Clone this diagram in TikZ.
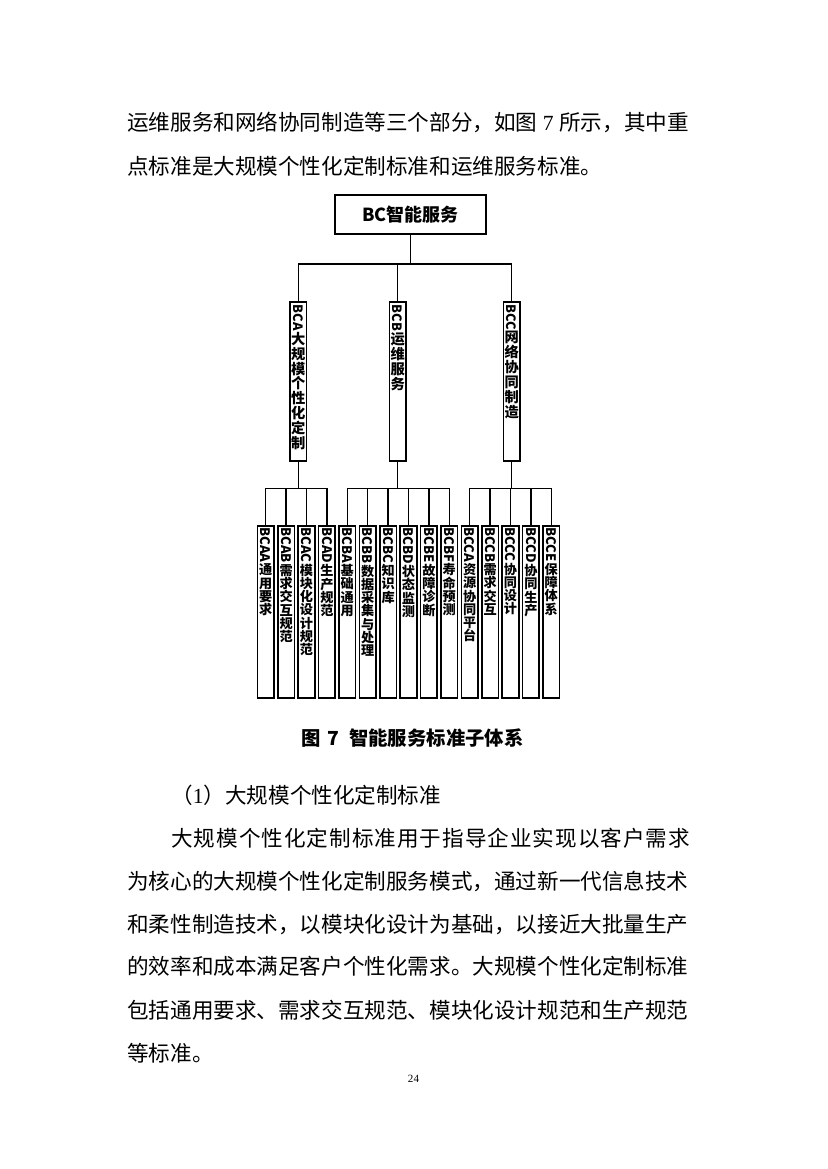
\documentclass[tikz,border=0pt]{standalone}
\usepackage{fontspec}
\usepackage{graphicx}
\setmainfont{Noto Sans CJK SC}
\newfontfamily\latinserif{Liberation Serif}
% inter-character glue for justification of CJK lines
\newcount\cjkc
\cjkc="4E00
\loop \XeTeXcharclass\cjkc=1 \advance\cjkc by 1 \ifnum\cjkc<"A000 \repeat
\XeTeXcharclass"FF0C=3
\XeTeXcharclass"3002=3
\XeTeXcharclass"3001=3
\XeTeXcharclass"FF09=3
\XeTeXcharclass"FF08=2
\XeTeXinterchartoks 1 1 = {\hskip 0pt plus 3pt minus 0.3pt\relax}
\XeTeXinterchartoks 3 1 = {\hskip 0pt plus 3pt minus 0.3pt\relax}
\XeTeXinterchartoks 1 2 = {\hskip 0pt plus 3pt minus 0.3pt\relax}
\XeTeXinterchartoks 3 2 = {\hskip 0pt plus 3pt minus 0.3pt\relax}
\XeTeXinterchartokenstate=1
\tikzset{
  conn/.style={line width=0.9pt},
  topbox/.style={draw, line width=1.4pt, minimum width=38.35mm, minimum height=9.9mm, inner sep=0pt,
    font=\fontsize{13}{15}\selectfont\bfseries},
  midbox/.style={draw, line width=1.2pt, minimum width=4.24mm, minimum height=40.4mm, inner sep=0pt},
  leafbox/.style={draw, line width=1.2pt, minimum width=4.24mm, minimum height=43.8mm, inner sep=0pt},
  midtxt/.style={anchor=north, inner sep=0pt, align=center, font=\fontsize{10.3}{10.8}\selectfont\bfseries},
  leaftxt/.style={anchor=north, inner sep=0pt, align=center, font=\fontsize{9.5}{9.6}\selectfont\bfseries},
  body/.style={anchor=west, inner sep=0pt, font=\fontsize{15.6}{18}\selectfont},
  bodyj/.style={body, text width=143mm, align=justify},
  captxt/.style={inner sep=0pt, font=\fontsize{14}{16}\selectfont\bfseries},
}
\newcommand\midlatin[1]{\rotatebox{-90}{\fontsize{9.3}{10}\selectfont #1}}
\newcommand\leafnode[4]{%
  \node[leafbox] (#1) at (#2,612) {};
  \node[leaftxt] (#1t) at ([yshift=-0.5mm]#1.north) {\rotatebox{-90}{#3}\\#4};
}
\begin{document}
\begin{tikzpicture}[x=0.254mm, y=-0.254mm]
\path[use as bounding box, fill=white] (0,0) rectangle (827,1169);

% body text top
\node[bodyj] (p1) at (127,122.7) {\noindent\parfillskip=0pt 运维服务和网络协同制造等三个部分，如图\hspace{4pt}{\latinserif 7}\hspace{4pt}所示，其中重};
\node[body] (p2) at (127,166.7) {点标准是大规模个性化定制标准和运维服务标准。};

% diagram
\node[topbox] (top) at (410.5,214.5) {BC智能服务};
\coordinate (bus1) at (0,264);
\coordinate (bus2) at (0,488.3);

\node[midbox] (bca) at (298.3,381.5) {};
\node[midbox] (bcb) at (397.7,381.5) {};
\node[midbox] (bcc) at (511.7,381.5) {};
\node[midtxt] (bcat) at ([yshift=-0.8mm]bca.north) {\midlatin{BCA}\\大\\规\\模\\个\\性\\化\\定\\制};
\node[midtxt] (bcbt) at ([yshift=-0.8mm]bcb.north) {\midlatin{BCB}\\运\\维\\服\\务};
\node[midtxt] (bcct) at ([yshift=-0.8mm]bcc.north) {\midlatin{BCC}\\网\\络\\协\\同\\制\\造};

\foreach \c in {bca,bcb,bcc}
  \draw[conn] (top.south) |- (\c.north |- bus1) -- (\c.north);

\leafnode{aa}{265.7}{BCAA}{通\\用\\要\\求}
\leafnode{ab}{286.1}{BCAB}{需\\求\\交\\互\\规\\范}
\leafnode{ac}{306.5}{BCAC}{模\\块\\化\\设\\计\\规\\范}
\leafnode{ad}{326.9}{BCAD}{生\\产\\规\\范}
\leafnode{ba}{347.3}{BCBA}{基\\础\\通\\用}
\leafnode{bb}{367.7}{BCBB}{数\\据\\采\\集\\与\\处\\理}
\leafnode{bc}{388.1}{BCBC}{知\\识\\库}
\leafnode{bd}{408.5}{BCBD}{状\\态\\监\\测}
\leafnode{be}{428.9}{BCBE}{故\\障\\诊\\断}
\leafnode{bf}{449.3}{BCBF}{寿\\命\\预\\测}
\leafnode{ca}{469.7}{BCCA}{资\\源\\协\\同\\平\\台}
\leafnode{cb}{490.1}{BCCB}{需\\求\\交\\互}
\leafnode{cc}{510.5}{BCCC}{协\\同\\设\\计}
\leafnode{cd}{530.9}{BCCD}{协\\同\\生\\产}
\leafnode{ce}{551.3}{BCCE}{保\\障\\体\\系}

\foreach \l in {aa,ab,ac,ad}
  \draw[conn] (bca.south) |- (\l.north |- bus2) -- (\l.north);
\foreach \l in {ba,bb,bc,bd,be,bf}
  \draw[conn] (bcb.south) |- (\l.north |- bus2) -- (\l.north);
\foreach \l in {ca,cb,cc,cd,ce}
  \draw[conn] (bcc.south) |- (\l.north |- bus2) -- (\l.north);

% caption
\node[captxt] (cap) at (412.5,738.3) {图\hspace{5pt}7\hspace{7pt}智能服务标准子体系};

% body text bottom
\node[body] (h1) at (171,795) {（{\latinserif 1}）大规模个性化定制标准};
\node[body] (q1) at (171,838.3) {\makebox[131.8mm][l]{大\hfill 规\hfill 模\hfill 个\hfill 性\hfill 化\hfill 定\hfill 制\hfill 标\hfill 准\hfill 用\hfill 于\hfill 指\hfill 导\hfill 企\hfill 业\hfill 实\hfill 现\hfill 以\hfill 客\hfill 户\hfill 需\hfill 求}};
\node[bodyj] (q2) at (127,881.7) {\noindent\parfillskip=0pt 为核心的大规模个性化定制服务模式，通过新一代信息技术};
\node[bodyj] (q3) at (127,925) {\noindent\parfillskip=0pt 和柔性制造技术，以模块化设计为基础，以接近大批量生产};
\node[bodyj] (q4) at (127,966.7) {\noindent\parfillskip=0pt 的效率和成本满足客户个性化需求。大规模个性化定制标准};
\node[bodyj] (q5) at (127,1010) {\noindent\parfillskip=0pt 包括通用要求、需求交互规范、模块化设计规范和生产规范};
\node[body] (q6) at (127,1053.3) {等标准。};

\node[inner sep=0pt, font=\latinserif\fontsize{8}{9}\selectfont] (pg) at (413.5,1079) {24};
\end{tikzpicture}
\end{document}
